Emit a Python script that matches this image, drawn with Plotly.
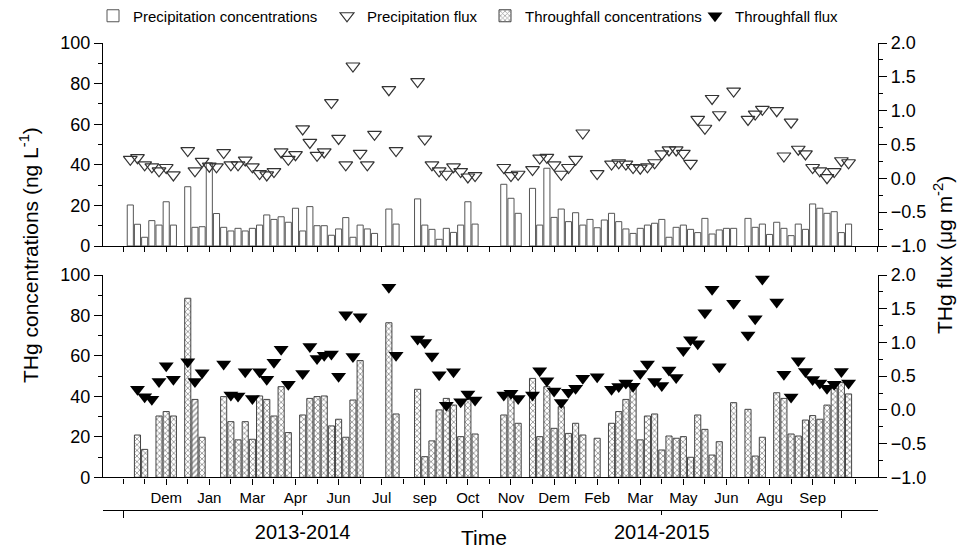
import plotly.graph_objects as go

# ---------------- data ----------------
month_labels = ["Dem", "Jan", "Mar", "Apr", "Jun", "Jul", "sep", "Oct",
                "Nov", "Dem", "Feb", "Mar", "May", "Jun", "Agu", "Sep"]
year_labels = ["2013-2014", "2014-2015"]

# sample index (time slot) of each precipitation sample
precip_slot = [1, 2, 3, 4, 5, 6, 7, 9, 10, 11, 12, 13, 14, 15, 16, 17, 18, 19, 20, 21,
               22, 23, 24, 25, 26, 27, 28, 29, 30, 31, 32, 33, 34, 35, 37, 38, 41, 42, 43, 44,
               45, 46, 47, 48, 49,
               53, 54, 55, 57, 58, 59, 60, 61, 62, 63, 64, 65, 66, 67, 68, 69, 70, 71, 72, 73,
               74, 75, 76, 77, 78, 79, 80, 81, 82, 83, 84, 85, 87, 88, 89, 90, 91, 92, 93, 94,
               95, 96, 97, 98, 99, 100, 101]
precip_conc = [20.2, 10.7, 4.3, 12.5, 10.3, 21.8, 10.3, 29.2, 9.2, 9.5, 41, 16, 9.2, 7.4, 8.7, 7.4, 8.7, 10.3, 15.3, 13.1,
               14.4, 11.7, 18.6, 7.4, 19.4, 10, 10, 5.3, 8.4, 14, 4.3, 10.3, 8.4, 6.2, 18.2, 10.8, 23.2, 10.3, 8.2, 3.3,
               8.7, 6.7, 10.3, 21.8, 10.8,
               30.4, 23.5, 16.1, 28.4, 10.3, 38.3, 14.1, 18.2, 12, 16.4, 10.3, 13.1, 9, 12.8, 16.1, 12, 8.4, 6.2, 8.7, 10.3,
               11.2, 13.1, 4.3, 9.2, 10.3, 8.2, 6.6, 13.6, 5.9, 7.9, 8.7, 8.7, 13.6, 9.2, 10.8, 5.7, 11.7, 8.7, 5.1, 10.8,
               8.2, 20.7, 18.6, 16.1, 16.9, 6.6, 10.8]
precip_flux = [0.28, 0.305, 0.20, 0.17, 0.11, 0.16, 0.05, 0.41, 0.11, 0.25, 0.18, 0.17, 0.38, 0.2, 0.2, 0.27, 0.17, 0.07, 0.05, 0.10,
               0.39, 0.28, 0.35, 0.73, 0.53, 0.34, 0.39, 1.12, 0.59, 0.20, 1.66, 0.37, 0.2, 0.65, 1.31, 0.41, 1.43, 0.58, 0.2, 0.11,
               0.06, 0.17, 0.10, 0.02, 0.04,
               0.16, 0.04, 0.06, 0.13, 0.30, 0.31, 0.2, 0.06, 0.16, 0.28, 0.67, None, 0.07, None, 0.21, 0.23, 0.21, 0.16, 0.15, 0.17,
               0.23, 0.36, 0.42, 0.42, 0.37, 0.22, 0.87, 0.74, 1.18, 0.94, None, 1.29, 0.87, 0.95, 1.02, None, 1.0, 0.33, 0.83, 0.43,
               0.36, 0.16, 0.11, 0.01, 0.10, 0.26, 0.23]

tf_slot = [2, 3, 4, 5, 6, 7, 9, 10, 11, 14, 15, 16, 17, 18, 19, 20, 21, 22, 23, 25,
           26, 27, 28, 29, 30, 31, 32, 33, 37, 38, 41, 42, 43, 44, 45, 46, 47, 48, 49,
           53, 54, 55, 57, 58, 59, 60, 61, 62, 63, 64, 66, 68, 69, 70, 71, 72, 73, 74, 75,
           76, 77, 78, 79, 80, 81, 82, 83, 85, 87, 88, 89, 91, 92, 93, 94, 95, 96, 97, 98,
           99, 100, 101]
tf_conc = [20.9, 13.8, None, 30.3, 32.5, 30.3, 88.5, 38.5, 19.8, 39.9, 27.5, 18.5, 27.5, 18.8, 40.2, 38.5, 30.3, 44.8, 22.1, 30.8,
           39, 39.9, 40.2, 25.4, 28.7, 19.8, 38.2, 57.7, 76.4, 31.3, 43.5, 10.2, 18, 33.3, 39, 35.7, 20.1, 38.5, 21.4,
           30.8, 41.2, 26.7, 48.9, 20.1, 44.8, 24.2, 34.9, 21.7, 26.7, 20.9, 19.3, 26.7, 32.5, 38.5, 44, 18.5, 30.3, 31.3, 13.5,
           20.4, 19.3, 20.1, 9.9, 30.8, 23.7, 11, 17.6, 36.9, 33.6, 10.5, 19.8, 41.8, 39, 21.4, 20.4, 28.3, 30.5, 28.7, 35.7,
           44, 46.8, 41.2]
tf_flux = [0.305, 0.196, 0.157, 0.42, 0.656, 0.453, 0.715, 0.42, 0.55, 0.68, 0.22, 0.206, 0.567, 0.17, 0.567, 0.453, 0.705, 0.90, 0.38, 0.54,
           0.94, 0.76, 0.81, 0.83, 0.50, 1.41, 0.79, 1.38, 1.82, 0.81, 1.05, 1.0, 0.80, 0.52, 0.07, 0.567, 0.12, 0.236, 0.147,
           0.22, 0.245, 0.17, 0.22, 0.58, 0.43, 0.28, 0.11, 0.26, 0.32, 0.47, 0.49, 0.305, 0.345, 0.40, 0.35, 0.54, 0.68, 0.42, 0.36,
           0.59, 0.48, 0.88, 1.04, 0.98, 1.44, 1.79, 0.64, 1.58, 1.11, 1.35, 1.94, 1.60, 0.53, 0.19, 0.73, 0.57, 0.45, 0.40, 0.32,
           0.38, 0.57, 0.40]
tf_hatch = ["/" if s == 10 else "x" for s in tf_slot]

# ---------------- layout helpers ----------------
# the page body adds an 8px offset; target positions below are screen pixels
OFF = 8
W, H = 965, 551
SCR_LEFT, SCR_RIGHT, SCR_TOP, SCR_BOTTOM = 103, 878, 43, 510
ML, MR = SCR_LEFT - OFF, W - (SCR_RIGHT - OFF)
MT, MB = SCR_TOP - OFF, H - (SCR_BOTTOM - OFF)
PW, PH = W - ML - MR, H - MT - MB


def px_x(p):
    return (p - SCR_LEFT) / PW


def px_y(p):
    return (SCR_BOTTOM - p) / PH


FONT = "Arial, Liberation Sans, sans-serif"
month_ticks = [6 * (k + 1) for k in range(len(month_labels))]
XR = [-2.8, 105.1]

fig = go.Figure()

fig.add_trace(go.Bar(
    x=precip_slot, y=precip_conc, width=0.85, name="Precipitation concentrations",
    marker=dict(color="white", line=dict(color="#555555", width=1)),
    xaxis="x", yaxis="y", legend="legend"))
fig.add_trace(go.Scatter(
    x=precip_slot, y=precip_flux, mode="markers", name="Precipitation flux",
    marker=dict(symbol="triangle-down-open", size=12, color="#333333", line=dict(width=1.2)),
    xaxis="x", yaxis="y2", legend="legend2"))
fig.add_trace(go.Bar(
    x=tf_slot, y=tf_conc, width=0.85, name="Throughfall concentrations",
    marker=dict(color="white", line=dict(color="#444444", width=1),
                pattern=dict(shape=tf_hatch, fgcolor="#333333", size=4, solidity=0.4)),
    xaxis="x2", yaxis="y3", legend="legend3"))
fig.add_trace(go.Scatter(
    x=tf_slot, y=tf_flux, mode="markers", name="Throughfall flux",
    marker=dict(symbol="triangle-down", size=13, color="black"),
    xaxis="x2", yaxis="y4", legend="legend4"))
# empty trace so that the year axis is drawn
fig.add_trace(go.Scatter(x=[], y=[], xaxis="x3", yaxis="y3", showlegend=False, hoverinfo="skip"))

top_dom = [px_y(246), 1.0]
bot_dom = [px_y(477.3), px_y(275)]

axis_common = dict(showline=True, linecolor="black", linewidth=1.4, ticks="outside",
                   tickcolor="black", tickwidth=1.2, showgrid=False, zeroline=False,
                   tickfont=dict(family=FONT, size=18, color="black"))

fig.update_layout(
    width=W, height=H, margin=dict(l=ML, r=MR, t=MT, b=MB, autoexpand=False),
    paper_bgcolor="white", plot_bgcolor="white", showlegend=True,
    font=dict(family=FONT, color="black"),
    xaxis=dict(domain=[0, 1], range=XR, anchor="y", showline=True, linecolor="black", linewidth=1.4,
               ticks="outside", ticklen=5, tickcolor="black", tickwidth=1.2,
               tickvals=[3 * k for k in range(36)], showticklabels=False,
               showgrid=False, zeroline=False),
    xaxis2=dict(domain=[0, 1], range=XR, anchor="y3", showline=True, linecolor="black", linewidth=1.4,
                ticks="outside", ticklen=6, tickcolor="black", tickwidth=1.2,
                tickvals=month_ticks, ticktext=month_labels,
                tickfont=dict(family=FONT, size=15, color="black"),
                minor=dict(tickvals=[0, 102] + [6 * k + 3 for k in range(17)], ticklen=5,
                           ticks="outside", tickcolor="black", tickwidth=1.2),
                showgrid=False, zeroline=False),
    xaxis3=dict(range=XR, anchor="free", position=0, overlaying="x2", showline=True,
                linecolor="black", linewidth=1.4, ticks="outside", ticklen=4, tickcolor="black",
                tickwidth=1.2, tickvals=[25, 75], ticktext=year_labels,
                tickfont=dict(family=FONT, size=20, color="black"),
                minor=dict(tickvals=[0, 50, 100], ticklen=7, ticks="outside",
                           tickcolor="black", tickwidth=1.4),
                showgrid=False, zeroline=False),
    yaxis=dict(domain=top_dom, range=[0, 100], anchor="x", tickvals=[0, 20, 40, 60, 80, 100],
               ticklen=8, minor=dict(dtick=10, ticklen=4, ticks="outside", tickcolor="black"),
               **axis_common),
    yaxis2=dict(range=[-1, 2], overlaying="y", side="right", anchor="x",
                tickvals=[-1, -0.5, 0, 0.5, 1, 1.5, 2], tickformat=".1f", ticklen=8,
                minor=dict(dtick=0.25, ticklen=4, ticks="outside", tickcolor="black"),
                **axis_common),
    yaxis3=dict(domain=bot_dom, range=[0, 100], anchor="x2", tickvals=[0, 20, 40, 60, 80, 100],
                ticklen=8, minor=dict(dtick=10, ticklen=4, ticks="outside", tickcolor="black"),
                **axis_common),
    yaxis4=dict(range=[-1, 2], overlaying="y3", side="right", anchor="x2",
                tickvals=[-1, -0.5, 0, 0.5, 1, 1.5, 2], tickformat=".1f", ticklen=8,
                minor=dict(dtick=0.25, ticklen=4, ticks="outside", tickcolor="black"),
                **axis_common),
)

leg_font = dict(family=FONT, size=15, color="black")
leg_y = 1 - (16 - OFF) / H
# x positions of the legend boxes inside the figure
for name, xpx in [("legend", 85), ("legend2", 319), ("legend3", 477), ("legend4", 687)]:
    fig.update_layout({name: dict(orientation="h", xref="container", yref="container",
                                  x=xpx / W, y=leg_y, xanchor="left", yanchor="middle",
                                  font=leg_font, bgcolor="rgba(0,0,0,0)", borderwidth=0)})

ann = dict(xref="paper", yref="paper", showarrow=False, xanchor="center", yanchor="middle")
fig.add_annotation(text="THg concentrations (ng L<sup>-1</sup>)", textangle=-90,
                   x=px_x(29), y=px_y(255), font=dict(family=FONT, size=21, color="black"), **ann)
fig.add_annotation(text="THg flux (μg m<sup>-2</sup>)", textangle=-90,
                   x=px_x(943), y=px_y(255), font=dict(family=FONT, size=21, color="black"), **ann)
fig.add_annotation(text="Time", x=px_x(484), y=px_y(537),
                   font=dict(family=FONT, size=21, color="black"), **ann)

fig.write_html("out.html")
